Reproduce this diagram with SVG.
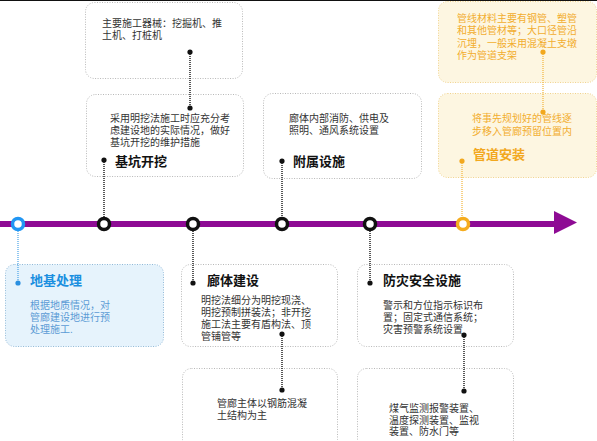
<svg xmlns="http://www.w3.org/2000/svg" width="597" height="441" viewBox="0 0 597 441">
<defs>
<style>
.box{fill:#ffffff;stroke:#b8b8b8;stroke-width:1;stroke-dasharray:1 1.5}
.bbox{fill:#e6f3fc;stroke:#8fb8d8;stroke-width:1;stroke-dasharray:1 1.5}
.ybox{fill:#fdf6e1;stroke:#f0d28a;stroke-width:1;stroke-dasharray:1 1.5}
.t{font-family:"Liberation Sans","Noto Sans CJK SC",sans-serif;font-size:10px;fill:#333}
.h{font-family:"Liberation Sans","Noto Sans CJK SC",sans-serif;font-size:13px;font-weight:bold;fill:#111}
.tb{fill:#5b9bd5}
.hb{fill:#1a8fe0}
.to{fill:#f2ad2e}
.ho{fill:#f2a81e}
.ln{stroke:#222;stroke-width:1.5;stroke-dasharray:1 1;fill:none}
.lnb{stroke:#4aa3e6;stroke-width:1.2;stroke-dasharray:1 1;fill:none}
.lno{stroke:#f2b43a;stroke-width:1.2;stroke-dasharray:1 1;fill:none}
.d{fill:#111}
.db{fill:#2a8fe0}
.do{fill:#f2a81e}
</style>
</defs>
<rect x="0" y="0" width="597" height="441" fill="#ffffff"/>
<line x1="0" y1="0.5" x2="597" y2="0.5" stroke="#111" stroke-width="1"/>

<g id="n-top1">
<rect class="box" x="85.5" y="2.5" width="157" height="76" rx="9"/>
<text class="t" x="102" y="27">主要施工器械：挖掘机、推<tspan x="102" y="38.5">土机、打桩机</tspan></text>
</g>
<g id="n-jikeng">
<rect class="box" x="86.5" y="94.5" width="157" height="82" rx="9"/>
<text class="t" x="110" y="122">采用明挖法施工时应充分考<tspan x="110" y="134">虑建设地的实际情况，做好</tspan><tspan x="110" y="145.5">基坑开挖的维护措施</tspan></text>
<text class="h" x="115" y="166">基坑开挖</text>
</g>
<g id="n-fushu">
<rect class="box" x="263.5" y="93.5" width="158" height="85" rx="9"/>
<text class="t" x="289" y="122">廊体内部消防、供电及<tspan x="289" y="134">照明、通风系统设置</tspan></text>
<text class="h" x="293" y="166">附属设施</text>
</g>
<g id="n-top-orange">
<rect class="ybox" x="438.5" y="1.5" width="158" height="81" rx="9"/>
<text class="t to" x="457" y="22">管线材料主要有钢管、塑管<tspan x="457" y="34.3">和其他管材等；大口径管沿</tspan><tspan x="457" y="46.6">沉埋，一般采用混凝土支墩</tspan><tspan x="457" y="59">作为管道支架</tspan></text>
</g>
<g id="n-guandao">
<rect class="ybox" x="438.5" y="93.5" width="158" height="84" rx="9"/>
<text class="t to" x="472" y="122">将事先规划好的管线逐<tspan x="472" y="135">步移入管廊预留位置内</tspan></text>
<text class="h ho" x="473" y="159">管道安装</text>
</g>

<g id="n-diji">
<rect class="bbox" x="5.5" y="264.5" width="158" height="82" rx="9"/>
<text class="h hb" x="30" y="285">地基处理</text>
<text class="t tb" x="30" y="309">根据地质情况，对<tspan x="30" y="321">管廊建设地进行预</tspan><tspan x="30" y="332.5">处理施工.</tspan></text>
</g>
<g id="n-langti">
<rect class="box" x="181.5" y="264.5" width="156" height="82" rx="9"/>
<text class="h" x="207" y="285">廊体建设</text>
<text class="t" x="201" y="304">明挖法细分为明挖现浇、<tspan x="201" y="316">明挖预制拼装法；非开挖</tspan><tspan x="201" y="328">施工法主要有盾构法、顶</tspan><tspan x="201" y="339.5">管铺管等</tspan></text>
</g>
<g id="n-guanlang">
<rect class="box" x="182.5" y="368.5" width="155" height="80" rx="9"/>
<text class="t" x="217" y="407">管廊主体以钢筋混凝<tspan x="217" y="418.5">土结构为主</tspan></text>
</g>
<g id="n-fangzai">
<rect class="box" x="357.5" y="264.5" width="156" height="82" rx="9"/>
<text class="h" x="383" y="285">防灾安全设施</text>
<text class="t" x="383" y="309">警示和方位指示标识布<tspan x="383" y="321">置；固定式通信系统；</tspan><tspan x="383" y="332.5">灾害预警系统设置</tspan></text>
</g>
<g id="n-meiqi">
<rect class="box" x="357.5" y="368.5" width="156" height="80" rx="9"/>
<text class="t" x="389" y="412">煤气监测报警装置、<tspan x="389" y="423.5">温度探测装置、监视</tspan><tspan x="389" y="435">装置、防水门等</tspan></text>
</g>

<g id="connectors">
<line class="ln" x1="190" y1="52" x2="190" y2="108"/>
<circle class="d" cx="190" cy="52" r="2.6"/>
<circle class="d" cx="190" cy="108" r="2.6"/>
<line class="ln" x1="104" y1="160" x2="104" y2="217"/>
<circle class="d" cx="104" cy="160" r="2.6"/>
<line class="ln" x1="282" y1="161" x2="282" y2="217"/>
<circle class="d" cx="282" cy="161" r="2.6"/>
<line class="lno" x1="543" y1="52" x2="543" y2="112"/>
<circle class="do" cx="543" cy="52" r="2.6"/>
<circle class="do" cx="543" cy="112" r="2.6"/>
<line class="lno" x1="462" y1="161" x2="462" y2="217"/>
<circle class="do" cx="462" cy="161" r="2.6"/>

<line class="lnb" x1="18" y1="231" x2="18" y2="283"/>
<circle class="db" cx="18" cy="283" r="2.6"/>
<line class="ln" x1="193" y1="231" x2="193" y2="283"/>
<circle class="d" cx="193" cy="283" r="2.6"/>
<line class="ln" x1="282" y1="334" x2="282" y2="390"/>
<circle class="d" cx="282" cy="334" r="2.6"/>
<circle class="d" cx="282" cy="390" r="2.6"/>
<line class="ln" x1="370" y1="231" x2="370" y2="283"/>
<circle class="d" cx="370" cy="283" r="2.6"/>
<line class="ln" x1="464" y1="335" x2="464" y2="391"/>
<circle class="d" cx="464" cy="335" r="2.6"/>
<circle class="d" cx="464" cy="391" r="2.6"/>
</g>

<g id="timeline">
<line x1="0" y1="224" x2="556" y2="224" stroke="#8e0b94" stroke-width="6"/>
<polygon points="554,211 577,222.5 554,234" fill="#8e0b94"/>
<circle cx="18" cy="224" r="5.5" fill="#ffffff" stroke="#2196f3" stroke-width="3.5"/>
<circle cx="104" cy="224" r="5.5" fill="#ffffff" stroke="#111" stroke-width="3.5"/>
<circle cx="193" cy="224" r="5.5" fill="#ffffff" stroke="#111" stroke-width="3.5"/>
<circle cx="282" cy="224" r="5.5" fill="#ffffff" stroke="#111" stroke-width="3.5"/>
<circle cx="370" cy="224" r="5.5" fill="#ffffff" stroke="#111" stroke-width="3.5"/>
<circle cx="463" cy="224" r="5.5" fill="#ffffff" stroke="#f5ac1e" stroke-width="3.5"/>
</g>
</svg>
